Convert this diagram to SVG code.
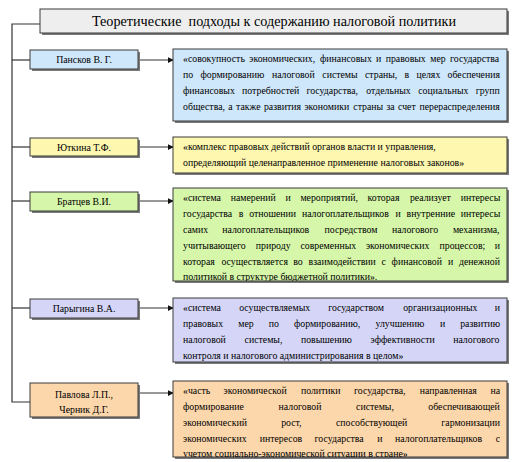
<svg xmlns="http://www.w3.org/2000/svg" width="516" height="462" viewBox="0 0 516 462">
<style>
  .t { font-family: "Liberation Serif", "Times New Roman", serif; font-size: 9.8px; fill: #000; }
  .h { font-family: "Liberation Serif", "Times New Roman", serif; font-size: 14.2px; fill: #000; text-anchor: middle; }
  .c { text-anchor: middle; }
  .box { stroke: #3a3a3a; stroke-width: 1; }
  .sh { fill: #7a7a7a; }
  .ln { fill: none; stroke: #333; stroke-width: 1.2; }
  .ar { fill: none; stroke: #333; stroke-width: 1.2; marker-end: url(#ah); }
  .gray { fill: #eeeeee; }
  .blue { fill: #cfe7fb; }
  .yel { fill: #fdf7b0; }
  .grn { fill: #d6f7aa; }
  .pur { fill: #d5d6f7; }
  .org { fill: #fcd7ab; }
</style>
<defs>
  <marker id="ah" viewBox="0 0 8 8" refX="7" refY="4" markerWidth="6" markerHeight="6" markerUnits="userSpaceOnUse" orient="auto">
    <path d="M0,0 L8,4 L0,8 Z" fill="#111"/>
  </marker>
  <clipPath id="cpBlue"><rect x="173" y="49" width="334" height="72"/></clipPath>
  <clipPath id="cpGrn"><rect x="173" y="188" width="334" height="93"/></clipPath>
  <clipPath id="cpOrg"><rect x="173" y="381" width="334" height="76"/></clipPath>
</defs>

<g id="connectors">
  <path class="ln" d="M40,24 H12 V402 H30"/>
  <path class="ln" d="M12,60 H30"/>
  <path class="ln" d="M12,147 H30"/>
  <path class="ln" d="M12,201 H30"/>
  <path class="ln" d="M12,308 H30"/>
  <path class="ar" d="M138,60 H173"/>
  <path class="ar" d="M138,147 H173"/>
  <path class="ar" d="M138,201 H173"/>
  <path class="ar" d="M138,308 H173"/>
  <path class="ar" d="M138,393 H173"/>
</g>

<g id="title">
  <rect class="sh" x="42" y="11" width="467" height="24"/>
  <rect class="box gray" x="40" y="9" width="467" height="24"/>
  <text class="h" x="274" y="26" xml:space="preserve">Теоретические  подходы к содержанию налоговой политики</text>
</g>

<g id="author-panskov">
  <rect class="sh" x="32" y="52" width="108" height="19"/>
  <rect class="box blue" x="30" y="50" width="108" height="19"/>
  <text class="t c" x="84" y="63">Пансков В. Г.</text>
</g>
<g id="def-panskov">
  <rect class="sh" x="175" y="51" width="334" height="72"/>
  <rect class="box blue" x="173" y="49" width="334" height="72"/>
  <g clip-path="url(#cpBlue)">
    <text class="t" y="62"><tspan x="183">«совокупность</tspan><tspan x="249.2">экономических,</tspan><tspan x="320">финансовых</tspan><tspan x="376.1">и</tspan><tspan x="385.7">правовых</tspan><tspan x="430.2">мер</tspan><tspan x="450">государства</tspan></text>
    <text class="t" y="78"><tspan x="183">по</tspan><tspan x="200.4">формированию</tspan><tspan x="271.9">налоговой</tspan><tspan x="322.3">системы</tspan><tspan x="365">страны,</tspan><tspan x="404.5">в</tspan><tspan x="416.4">целях</tspan><tspan x="447.6">обеспечения</tspan></text>
    <text class="t" y="94"><tspan x="183">финансовых</tspan><tspan x="242.1">потребностей</tspan><tspan x="306.4">государства,</tspan><tspan x="366.3">отдельных</tspan><tspan x="418.2">социальных</tspan><tspan x="475.7">групп</tspan></text>
    <text class="t" y="110"><tspan x="183">общества,</tspan><tspan x="228.2">а</tspan><tspan x="236">также</tspan><tspan x="263.9">развития</tspan><tspan x="304.4">экономики</tspan><tspan x="353.3">страны</tspan><tspan x="386.4">за</tspan><tspan x="398">счет</tspan><tspan x="419.4">перераспределения</tspan></text>
  </g>
</g>

<g id="author-yutkina">
  <rect class="sh" x="32" y="140" width="108" height="18"/>
  <rect class="box yel" x="30" y="138" width="108" height="18"/>
  <text class="t c" x="84" y="150.5">Юткина Т.Ф.</text>
</g>
<g id="def-yutkina">
  <rect class="sh" x="175" y="139" width="334" height="36"/>
  <rect class="box yel" x="173" y="137" width="334" height="36"/>
  <text class="t" x="183" y="150">«комплекс правовых действий органов власти и управления,</text>
  <text class="t" x="183" y="166">определяющий целенаправленное применение налоговых законов»</text>
</g>

<g id="author-bratsev">
  <rect class="sh" x="32" y="194" width="108" height="19"/>
  <rect class="box grn" x="30" y="192" width="108" height="19"/>
  <text class="t c" x="84" y="204.5">Братцев В.И.</text>
</g>
<g id="def-bratsev">
  <rect class="sh" x="175" y="190" width="334" height="93"/>
  <rect class="box grn" x="173" y="188" width="334" height="93"/>
  <g clip-path="url(#cpGrn)">
    <text class="t" y="201"><tspan x="183">«система</tspan><tspan x="230.7">намерений</tspan><tspan x="285.5">и</tspan><tspan x="300.4">мероприятий,</tspan><tspan x="367.6">которая</tspan><tspan x="409.9">реализует</tspan><tspan x="460.7">интересы</tspan></text>
    <text class="t" y="217"><tspan x="183">государства</tspan><tspan x="238.8">в</tspan><tspan x="249.2">отношении</tspan><tspan x="301.9">налогоплательщиков</tspan><tspan x="395.5">и</tspan><tspan x="406.5">внутренние</tspan><tspan x="460.7">интересы</tspan></text>
    <text class="t" y="233"><tspan x="183">самих</tspan><tspan x="222.3">налогоплательщиков</tspan><tspan x="324.5">посредством</tspan><tspan x="391.9">налогового</tspan><tspan x="452.9">механизма,</tspan></text>
    <text class="t" y="249"><tspan x="183">учитывающего</tspan><tspan x="255.8">природу</tspan><tspan x="300.5">современных</tspan><tspan x="365.9">экономических</tspan><tspan x="439.5">процессов;</tspan><tspan x="494.8">и</tspan></text>
    <text class="t" y="265"><tspan x="183">которая</tspan><tspan x="221.4">осуществляется</tspan><tspan x="293.3">во</tspan><tspan x="308.6">взаимодействии</tspan><tspan x="381.5">с</tspan><tspan x="391.6">финансовой</tspan><tspan x="447.9">и</tspan><tspan x="458.9">денежной</tspan></text>
    <text class="t" x="183" y="280">политикой в структуре бюджетной политики».</text>
  </g>
</g>

<g id="author-parygina">
  <rect class="sh" x="32" y="301" width="108" height="19"/>
  <rect class="box pur" x="30" y="299" width="108" height="19"/>
  <text class="t c" x="84" y="311.5">Парыгина В.А.</text>
</g>
<g id="def-parygina">
  <rect class="sh" x="175" y="300" width="334" height="64"/>
  <rect class="box pur" x="173" y="298" width="334" height="64"/>
  <text class="t" y="311"><tspan x="183">«система</tspan><tspan x="239.2">осуществляемых</tspan><tspan x="328.2">государством</tspan><tspan x="403.2">организационных</tspan><tspan x="494.8">и</tspan></text>
  <text class="t" y="327"><tspan x="183">правовых</tspan><tspan x="238.2">мер</tspan><tspan x="268.7">по</tspan><tspan x="293.9">формированию,</tspan><tspan x="375.5">улучшению</tspan><tspan x="439.9">и</tspan><tspan x="460.2">развитию</tspan></text>
  <text class="t" y="343"><tspan x="183">налоговой</tspan><tspan x="244.6">системы,</tspan><tspan x="300.9">повышению</tspan><tspan x="370.5">эффективности</tspan><tspan x="453.2">налогового</tspan></text>
  <text class="t" x="183" y="359">контроля и налогового администрирования в целом»</text>
</g>

<g id="author-pavlova">
  <rect class="sh" x="32" y="385" width="108" height="34"/>
  <rect class="box org" x="30" y="383" width="108" height="34"/>
  <text class="t c" x="84" y="398">Павлова Л.П.,</text>
  <text class="t c" x="84" y="412.5">Черник Д.Г.</text>
</g>
<g id="def-pavlova">
  <rect class="sh" x="175" y="383" width="334" height="76"/>
  <rect class="box org" x="173" y="381" width="334" height="76"/>
  <g clip-path="url(#cpOrg)">
    <text class="t" y="394"><tspan x="183">«часть</tspan><tspan x="223.6">экономической</tspan><tspan x="300.9">политики</tspan><tspan x="354">государства,</tspan><tspan x="419.8">направленная</tspan><tspan x="490.4">на</tspan></text>
    <text class="t" y="410"><tspan x="183">формирование</tspan><tspan x="278.6">налоговой</tspan><tspan x="356.1">системы,</tspan><tspan x="428.3">обеспечивающей</tspan></text>
    <text class="t" y="426"><tspan x="183">экономический</tspan><tspan x="281.2">рост,</tspan><tspan x="336">способствующей</tspan><tspan x="441.3">гармонизации</tspan></text>
    <text class="t" y="442"><tspan x="183">экономических</tspan><tspan x="259.7">интересов</tspan><tspan x="314.5">государства</tspan><tspan x="377.2">и</tspan><tspan x="395.1">налогоплательщиков</tspan><tspan x="495.7">с</tspan></text>
    <text class="t" x="183" y="457">учетом социально-экономической ситуации в стране»</text>
  </g>
</g>
</svg>
